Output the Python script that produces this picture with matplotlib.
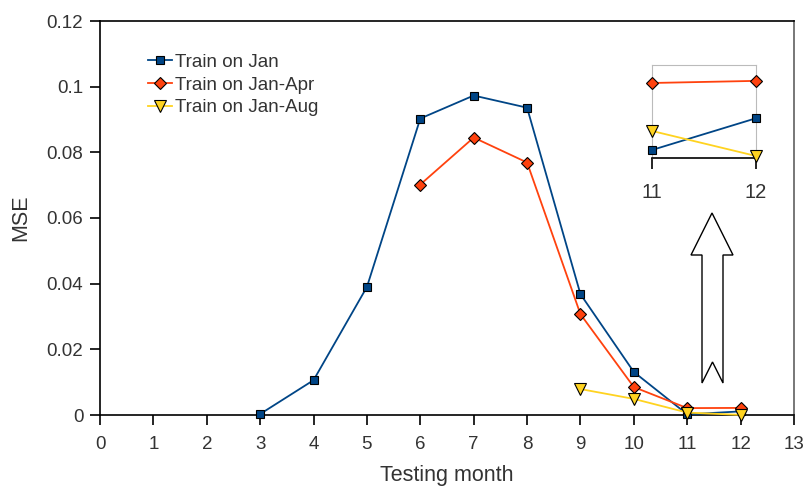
import numpy as np
import matplotlib
matplotlib.use("Agg")
import matplotlib.pyplot as plt
from matplotlib.patches import Polygon

plt.rcParams['font.family'] = ['Liberation Sans', 'DejaVu Sans']

# data
months_jan = [3, 4, 5, 6, 7, 8, 9, 10, 11, 12]
mse_jan = [0.0003, 0.0106, 0.0390, 0.0903, 0.0973, 0.0936, 0.0368, 0.0131, 0.0002, 0.0011]
months_apr = [6, 7, 8, 9, 10, 11, 12]
mse_apr = [0.0702, 0.0845, 0.0769, 0.0307, 0.0085, 0.0021, 0.00216]
months_aug = [9, 10, 11, 12]
mse_aug = [0.0079, 0.0049, 0.00074, 0.00003]
xticks = list(range(0, 14))
yticks = [0, 0.02, 0.04, 0.06, 0.08, 0.1, 0.12]
ytick_labels = ['0', '0.02', '0.04', '0.06', '0.08', '0.1', '0.12']

c_jan = '#004586'
c_apr = '#ff420e'
c_aug = '#ffd320'
txt = '#333333'

W, H = 808, 486
fig = plt.figure(figsize=(W / 100, H / 100), dpi=100)
ax = fig.add_axes([100 / W, (H - 415) / H, 694 / W, 394 / H])

series = [
    (months_jan, mse_jan, c_jan, 's', 'Train on Jan', 6),
    (months_apr, mse_apr, c_apr, 'D', 'Train on Jan-Apr', 6),
    (months_aug, mse_aug, c_aug, 'v', 'Train on Jan-Aug', 8),
]
for x, y, c, m, lab, ms in series:
    ax.plot(x, y, color=c, marker=m, markersize=ms, markeredgecolor='black',
            markeredgewidth=0.8, linewidth=1.3, label=lab, clip_on=False, zorder=3)

ax.set_xlim(0, 13)
ax.set_ylim(0, 0.12)
ax.set_xticks(xticks)
ax.set_yticks(yticks)
ax.set_yticklabels(ytick_labels)
ax.tick_params(direction='out', length=7, width=1.2, colors='black',
               labelcolor=txt, labelsize=13.5, pad=8)
ax.tick_params(axis='y', pad=5)
for s in ['left', 'bottom', 'top']:
    ax.spines[s].set_color('black')
    ax.spines[s].set_linewidth(1.2)
ax.spines['right'].set_color('#777777')
ax.spines['right'].set_linewidth(1.4)
ax.set_xlabel('Testing month', fontsize=15.5, color=txt, labelpad=9)
ax.set_ylabel('MSE', fontsize=15.5, color=txt, labelpad=11)

ax.legend(loc='upper left', bbox_to_anchor=(0.045, 0.96), frameon=False,
          fontsize=13.5, handlelength=1.3, handletextpad=0.15, labelspacing=0.3,
          labelcolor=txt)

# inset zoom on months 11-12
ins = fig.add_axes([652 / W, (H - 158) / H, 104 / W, 93 / H])
for x, y, c, m, lab, ms in series:
    ins.plot(x[-2:], y[-2:], color=c, marker=m, markersize=ms, markeredgecolor='black',
             markeredgewidth=0.8, linewidth=1.3, clip_on=False, zorder=3)
ins.set_xlim(11, 12)
ins.set_ylim(-0.000027, 0.00261)
ins.set_xticks([11, 12])
ins.set_yticks([])
ins.tick_params(direction='out', length=8, width=1.2, labelsize=14.5,
                labelcolor=txt, pad=10)
for s in ['left', 'right', 'top']:
    ins.spines[s].set_color('#bbbbbb')
ins.spines['bottom'].set_color('black')
ins.spines['bottom'].set_linewidth(1.2)
ins.patch.set_alpha(0)

# hollow block arrow pointing to the inset
arrow_px = [(702, 383), (702, 255), (691, 255), (712, 213), (733, 255),
            (723, 255), (723, 383), (712.5, 362)]
arrow = Polygon([(px / W, 1 - py / H) for px, py in arrow_px], closed=True,
                facecolor='white', edgecolor='black', linewidth=1.0,
                transform=fig.transFigure)
fig.patches.append(arrow)

fig.savefig('out.png', dpi=100)
